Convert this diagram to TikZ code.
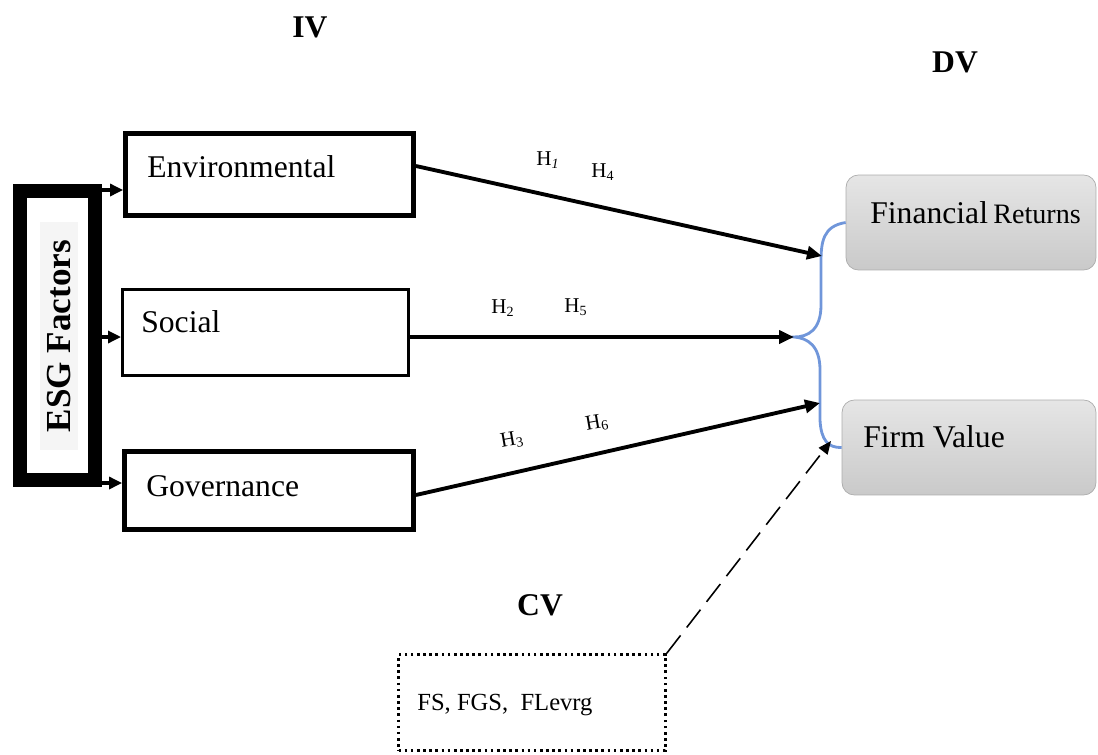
\documentclass[tikz,border=0pt]{standalone}
\usepackage{fontspec}
\setmainfont{Liberation Serif}
\usetikzlibrary{arrows.meta, positioning}
\definecolor{bracecol}{RGB}{112,150,218}

\begin{document}
\begin{tikzpicture}[x=0.02cm, y=-0.02cm, every node/.style={font=\fontsize{18}{20}\selectfont},
		hdr/.style={font=\bfseries\fontsize{18}{20}\selectfont},
		ivbox/.style={draw, line width=2.8pt, inner sep=0pt},
		dvbox/.style={draw=gray!65, rounded corners=7pt, top color=gray!20, bottom color=gray!42, inner sep=0pt, minimum height=1.9cm},
		txt/.style={anchor=west, inner sep=0pt},
		hyp/.style={font=\fontsize{12}{14}\selectfont, inner sep=0pt},
		short/.style={-{Triangle[length=2.6mm,width=2.4mm]}, line width=1.8pt},
		link/.style={-{Triangle[length=3mm,width=2.6mm]}, line width=2.2pt}]
		\useasboundingbox (0,0) rectangle (1098,754);
		
		% headings
		\node[hdr] (iv) at (310,27) {IV};
		\node[hdr] (dv) at (955,62) {DV};
		\node[hdr] (cv) at (540,605) {CV};
		
		% ESG block
		\node[draw, line width=0.28cm, minimum width=1.5cm, minimum height=5.78cm] (esg) at (57.5,335.5) {};
		\node[fill=gray!8, rotate=90, font=\bfseries\fontsize{20}{22}\selectfont, minimum width=4.56cm, minimum height=0.76cm, inner sep=0pt] (esgtxt) at (59,336) {ESG Factors};
		
		% independent variables
		\node[ivbox, minimum width=5.76cm, minimum height=1.64cm] (env) at (269.5,174.5) {};
		\node[ivbox, line width=1.7pt, minimum width=5.72cm, minimum height=1.72cm] (soc) at (265.5,332.5) {};
		\node[ivbox, minimum width=5.78cm, minimum height=1.56cm] (gov) at (269,490.5) {};
		\node[txt] (envtxt) at (147,167) {Environmental};
		\node[txt] (soctxt) at (141,322) {Social};
		\node[txt] (govtxt) at (146,486) {Governance};
		
		\coordinate (a1) at (0,190);
		\coordinate (a2) at (0,337);
		\coordinate (a3) at (0,483);
		\draw[short] (esg.east |- a1) -- (env.west |- a1);
		\draw[short] (esg.east |- a2) -- (soc.west |- a2);
		\draw[short] (esg.east |- a3) -- (gov.west |- a3);
		
		% dependent variables
		\node[dvbox, minimum width=5cm] (finret) at (971,222.5) {};
		\node[dvbox, minimum width=5.08cm] (firmval) at (969,447.5) {};
		\node[txt] (fintxt) at (870,213) {Financial\,{\fontsize{16}{18}\selectfont Returns}};
		\node[txt] (firmtxt) at (863,437) {Firm Value};
		
		% brace
		\coordinate (bt) at (822,256);
		\coordinate (bm) at (794,337);
		\coordinate (bb) at (820,403);
		\coordinate (bf) at (831,441);
		\draw[bracecol, line width=1.6pt] (finret.west) .. controls (823,226) and (821,242) .. (821,262) -- (821,305)
			.. controls (821,330) and (808,337) .. (bm) .. controls (808,338) and (820,346) .. (820,370) -- (820,420)
			.. controls (821,440) and (828,448) .. (firmval.west);
		
		% paths
		\draw[link] ([yshift=0.17cm]env.east) -- (bt);
		\draw[link] ([yshift=-0.09cm]soc.east) -- (bm);
		\draw[link] ([yshift=-0.09cm]gov.east) -- (bb);
		
		\node[hyp] (h1) at (548,160) {H\textsubscript{\itshape 1}};
		\node[hyp] (h4) at (603,172) {H\textsubscript{4}};
		\node[hyp] (h2) at (503,308) {H\textsubscript{2}};
		\node[hyp] (h5) at (576,307) {H\textsubscript{5}};
		\node[hyp, rotate=10] (h3) at (512,440) {H\textsubscript{3}};
		\node[hyp, rotate=10] (h6) at (597,423) {H\textsubscript{6}};
		
		% control variables
		\node[draw, dotted, line width=1.5pt, minimum width=5.34cm, minimum height=1.92cm] (cvbox) at (532,702.5) {};
		\node[txt, font=\fontsize{14}{16}\selectfont] (cvtxt) at (417,705) {FS, FGS,~ FLevrg};
		\draw[-{Triangle[length=2.6mm,width=2.2mm]}, line width=0.9pt, dash pattern=on 0.45cm off 0.2cm] (cvbox.north east) -- (bf);
	\end{tikzpicture}
\end{document}
